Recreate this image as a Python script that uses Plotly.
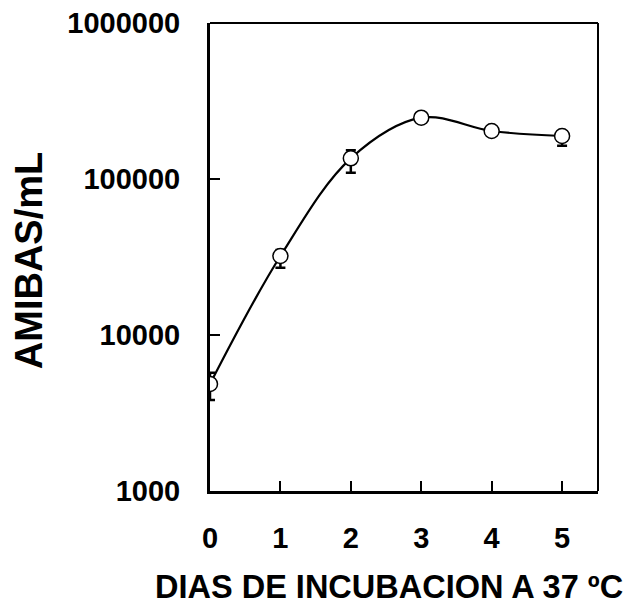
import plotly.graph_objects as go

dias = [0, 1, 2, 3, 4, 5]
amibas = [4850, 32100, 135700, 247200, 203000, 188600]
err_plus = [880, 3000, 17000, 5000, 5000, 8000]
err_minus = [1020, 5100, 26000, 5000, 8000, 25000]

x_ticks = [0, 1, 2, 3, 4, 5]
y_ticks = [1000, 10000, 100000, 1000000]
y_ticktext = ["1000", "10000", "100000", "1000000"]

x_title = "DIAS DE INCUBACION A 37 ºC"
y_title = "AMIBAS/mL"

FONT = "Liberation Sans, Arial, sans-serif"

fig = go.Figure()
fig.add_trace(go.Scatter(
    x=dias, y=amibas, mode="lines+markers",
    line=dict(color="black", width=2.2, shape="spline", smoothing=1.0),
    marker=dict(symbol="circle", size=15, color="white",
                line=dict(color="black", width=1.5)),
    error_y=dict(type="data", symmetric=False, array=err_plus,
                 arrayminus=err_minus, color="black", thickness=2.5, width=5),
    showlegend=False,
))

fig.update_layout(
    width=628, height=600,
    margin=dict(l=202, r=38, t=15, b=117),
    paper_bgcolor="white", plot_bgcolor="white",
    font=dict(family=FONT, color="black"),
    xaxis=dict(
        range=[0, 5.51], tickvals=x_ticks, ticks="inside", ticklen=10,
        tickwidth=2, tickcolor="black", showline=True, linecolor="black",
        linewidth=3, showgrid=False, zeroline=False, ticklabelstandoff=19,
        ticklabeloverflow="allow", automargin=False,
        tickfont=dict(family=FONT, size=29, color="black", weight="bold"),
    ),
    yaxis=dict(
        type="log", range=[3, 6], tickvals=y_ticks, ticktext=y_ticktext,
        ticks="inside", ticklen=10, tickwidth=2, tickcolor="black",
        showline=True, linecolor="black", linewidth=3, showgrid=False,
        zeroline=False, ticklabelstandoff=21, ticklabeloverflow="allow",
        automargin=False,
        tickfont=dict(family=FONT, size=29, color="black", weight="bold"),
    ),
    annotations=[
        dict(text="<b>" + x_title + "</b>", xref="paper", yref="paper",
             x=0.461, y=0, xanchor="center", yanchor="middle", yshift=-96,
             showarrow=False, font=dict(family=FONT, size=32.5, color="black")),
        dict(text="<b>" + y_title + "</b>", xref="paper", yref="paper",
             x=0, y=0.491, xanchor="center", yanchor="middle", xshift=-181,
             textangle=-90, showarrow=False,
             font=dict(family=FONT, size=38, color="black")),
    ],
    shapes=[
        dict(type="line", xref="paper", yref="paper", x0=0, x1=1, y0=1, y1=1,
             line=dict(color="black", width=2)),
        dict(type="line", xref="paper", yref="paper", x0=1, x1=1, y0=0, y1=1,
             line=dict(color="black", width=2)),
    ],
)

fig.write_html("out.html")
